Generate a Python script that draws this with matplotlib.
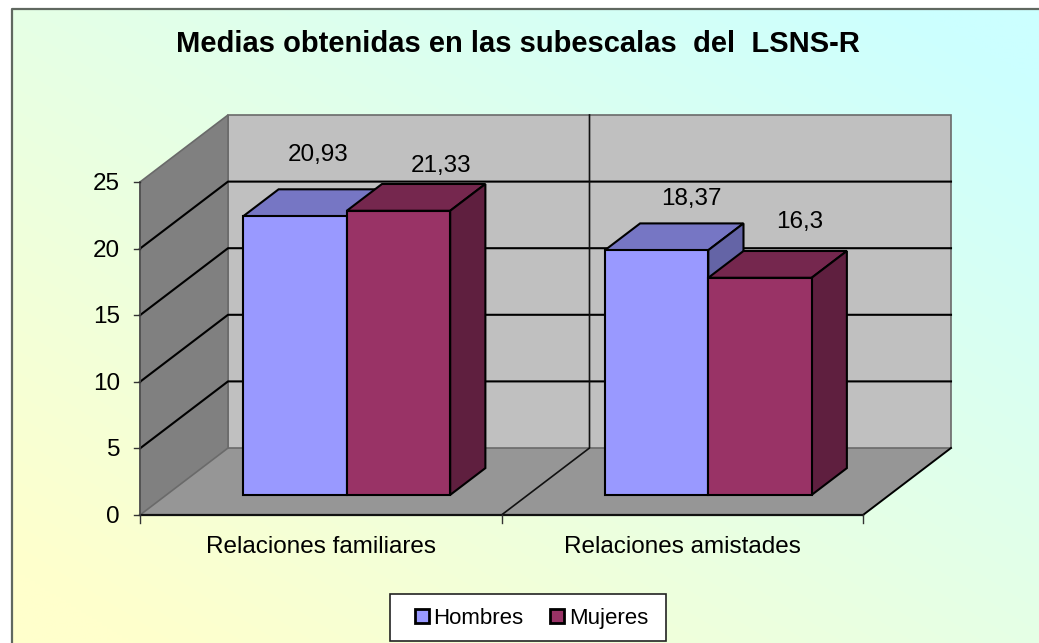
import numpy as np
import matplotlib
matplotlib.use('Agg')
import matplotlib.pyplot as plt
from matplotlib.patches import Patch, Rectangle

plt.rcParams['font.family'] = ['Liberation Sans', 'DejaVu Sans']

# Datos
titulo = 'Medias obtenidas en las subescalas  del  LSNS-R'
categorias = ['Relaciones familiares', 'Relaciones amistades']
series = ['Hombres', 'Mujeres']
hombres = [20.93, 18.37]
mujeres = [21.33, 16.3]
etiquetas_h = ['20,93', '18,37']
etiquetas_m = ['21,33', '16,3']
ticks_y = [0, 5, 10, 15, 20, 25]

# Geometria de la caja 3D (pixeles de la imagen)
X0, ANCHO_CAT = 140, 361.5
Y0, ESCALA = 515, 13.32
DX, DY = 88, -67
ANCHO_BARRA = 0.286
MARGEN_BARRA = 0.213
D_FRENTE, D_FONDO = 0.30, 0.70
FS = 17.5


def proy(cat, val, prof=0.0):
    return X0 + cat * ANCHO_CAT + prof * DX, Y0 - val * ESCALA + prof * DY


def cara(ax, puntos, color, borde='black', lw=1.5, z=2):
    xs, ys = zip(*[proy(*p) for p in puntos])
    ax.fill(xs, ys, facecolor=color, edgecolor=borde, linewidth=lw, zorder=z, joinstyle='miter')


def barra(ax, x, val, frente, arriba, lado, z):
    x2 = x + ANCHO_BARRA
    a, b = D_FRENTE, D_FONDO
    cara(ax, [(x, val, a), (x, val, b), (x2, val, b), (x2, val, a)], arriba, z=z)
    cara(ax, [(x2, 0, a), (x2, 0, b), (x2, val, b), (x2, val, a)], lado, z=z)
    cara(ax, [(x, 0, a), (x2, 0, a), (x2, val, a), (x, val, a)], frente, z=z)


fig = plt.figure(figsize=(10.39, 6.43), dpi=100)
ax = fig.add_axes([0, 0, 1, 1])
ax.axis('off')

# Fondo degradado
yy, xx = np.mgrid[9:643:200j, 12:1039:200j]
t = ((xx - 12) / 1027 + (643 - yy) / 634) / 2
t = np.clip((t - 0.06) / 0.88, 0, 1)
fondo = np.zeros(xx.shape + (3,))
fondo[..., 0] = 1.0 - 0.2 * t
fondo[..., 1] = 1.0
fondo[..., 2] = 0.8 + 0.2 * t
ax.imshow(fondo, extent=[12, 1039, 643, 9], aspect='auto', zorder=0, interpolation='bilinear')
ax.plot([12, 12, 1039], [643, 9, 9], color='#606860', lw=1.6, zorder=1)

n = len(categorias)
tope = ticks_y[-1]

# Paredes y suelo
gris = '#6a6a6a'
cara(ax, [(0, 0, 0), (n, 0, 0), (n, 0, 1), (0, 0, 1)], '#969696', borde='none', lw=0, z=1)
cara(ax, [(0, 0, 1), (n, 0, 1), (n, tope, 1), (0, tope, 1)], '#C0C0C0', borde=gris, lw=1.2, z=1)
cara(ax, [(0, 0, 0), (0, 0, 1), (0, tope, 1), (0, tope, 0)], '#808080', borde=gris, lw=1.2, z=1)

# Rejilla
for v in ticks_y[1:-1]:
    x1, y1 = proy(0, v, 0)
    x2, y2 = proy(0, v, 1)
    x3, y3 = proy(n, v, 1)
    ax.plot([x1, x2, x3], [y1, y2, y3], color='black', lw=1.5, zorder=1.5)
x1, y1 = proy(1, 0, 0)
x2, y2 = proy(1, 0, 1)
x3, y3 = proy(1, tope, 1)
ax.plot([x1, x2, x3], [y1, y2, y3], color='#111111', lw=1.2, zorder=1.5)
x1, y1 = proy(n, 0, 0)
x2, y2 = proy(n, 0, 1)
ax.plot([x1, x2], [y1, y2], color='black', lw=1.4, zorder=1.5)

# Ejes
x1, y1 = proy(0, 0)
x2, y2 = proy(n, 0)
ax.plot([x1, x2], [y1, y2], color='#111111', lw=1.6, zorder=1.6)
x2, y2 = proy(0, tope)
ax.plot([x1, x2], [y1, y2], color='#505050', lw=1.2, zorder=1.6)
for v in ticks_y:
    x, y = proy(0, v)
    ax.plot([x - 6, x], [y, y], color='#333333', lw=1, zorder=1.6)
    ax.text(x - 20, y + 2, str(v), ha='right', va='center', fontsize=FS, color='black')
for i in range(n + 1):
    x, y = proy(i, 0)
    ax.plot([x, x], [y, y + 8], color='#333333', lw=1, zorder=1.6)
for i, c in enumerate(categorias):
    x, y = proy(i + 0.5, 0)
    ax.text(x, y + 32, c, ha='center', va='center', fontsize=FS, color='black')

# Barras
off_h = [(75, -61), (86, -51)]
off_m = [(94, -45), (91, -56)]
for i in range(n):
    xh = i + MARGEN_BARRA
    xm = xh + ANCHO_BARRA
    barra(ax, xh, hombres[i], '#9999FF', '#7676C4', '#6464A6', 3 + i * 2)
    barra(ax, xm, mujeres[i], '#993366', '#75274E', '#5F1F3F', 4 + i * 2)
    px, py = proy(xh, hombres[i], D_FRENTE)
    ax.text(px + off_h[i][0], py + off_h[i][1], etiquetas_h[i], ha='center', va='center',
            fontsize=FS, color='black', zorder=10)
    px, py = proy(xm, mujeres[i], D_FRENTE)
    ax.text(px + off_m[i][0], py + off_m[i][1], etiquetas_m[i], ha='center', va='center',
            fontsize=FS, color='black', zorder=10)

ax.text(518, 44, titulo, ha='center', va='center', fontsize=21, fontweight='bold', color='black')

ax.set_xlim(0, 1039)
ax.set_ylim(643, 0)

# Leyenda
ax.add_patch(Rectangle((390, 594), 276, 47, facecolor='white', edgecolor='#222222', linewidth=1.2, zorder=19))
mano = [Patch(facecolor='#9999FF', edgecolor='black', linewidth=2),
        Patch(facecolor='#993366', edgecolor='black', linewidth=2)]
ley = ax.legend(mano, series, ncol=2, loc='center', bbox_to_anchor=(531.5 / 1039, 1 - 618.5 / 643),
                fontsize=16, frameon=False, handlelength=0.63, handleheight=0.63,
                handletextpad=0.2, columnspacing=1.2, borderpad=0, borderaxespad=0)
ley.set_zorder(20)

fig.savefig('out.png', dpi=100)
